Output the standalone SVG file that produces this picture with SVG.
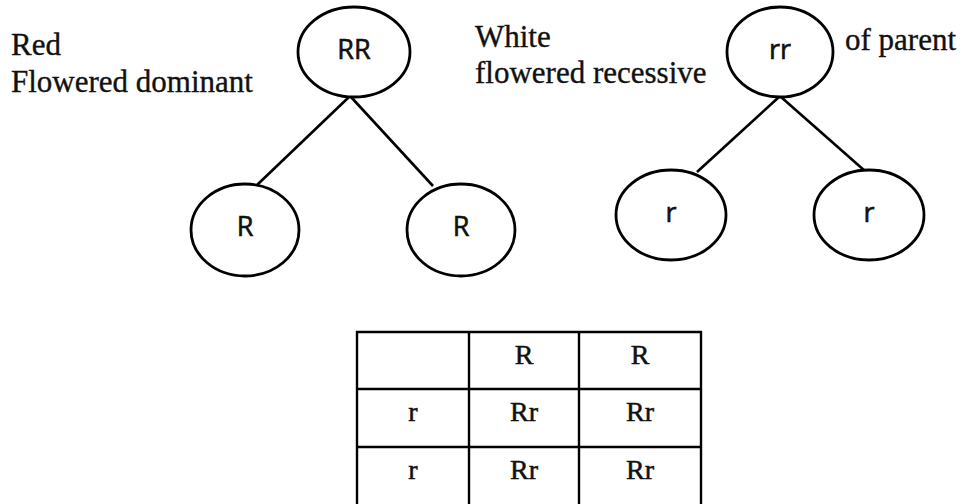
<svg xmlns="http://www.w3.org/2000/svg" width="964" height="504" viewBox="0 0 964 504">
<style>
.node ellipse{fill:#fff;stroke:#000;stroke-width:2.8}
.node text{font-family:"Open Sans","DejaVu Sans",sans-serif;font-size:27px;fill:#111;stroke:#111;stroke-width:0.6;text-anchor:middle}
.lbl{font-family:"Liberation Serif","Times New Roman",serif;font-size:31px;fill:#111;stroke:#111;stroke-width:0.35}
.conn line{stroke:#000;stroke-width:2.6}
.grid line{stroke:#000;stroke-width:2.4}
.cell{font-family:"Liberation Serif","Times New Roman",serif;font-size:28px;fill:#111;stroke:#111;stroke-width:0.5;text-anchor:middle}
</style>
<rect width="964" height="504" fill="#fff"/>
<text class="lbl" x="11" y="55">Red</text>
<text class="lbl" x="11" y="92">Flowered dominant</text>
<text class="lbl" x="475" y="47">White</text>
<text class="lbl" x="475" y="83">flowered recessive</text>
<text class="lbl" x="845" y="50">of parent</text>
<g id="connectors" class="conn">
<line x1="349" y1="97" x2="257" y2="185"/>
<line x1="351" y1="97" x2="433" y2="186"/>
<line x1="779" y1="97" x2="697" y2="172"/>
<line x1="781" y1="97" x2="865" y2="171"/>
</g>
<g id="RR" class="node"><ellipse cx="354" cy="52" rx="56" ry="45"/><text x="354" y="59">RR</text></g>
<g id="R1" class="node"><ellipse cx="245" cy="230" rx="54" ry="46"/><text x="245" y="236">R</text></g>
<g id="R2" class="node"><ellipse cx="461" cy="230" rx="54" ry="46"/><text x="461" y="236">R</text></g>
<g id="rr" class="node"><ellipse cx="780" cy="52" rx="53" ry="45"/><text x="780" y="59">rr</text></g>
<g id="r1" class="node"><ellipse cx="671" cy="215" rx="55" ry="45"/><text x="671" y="222">r</text></g>
<g id="r2" class="node"><ellipse cx="869" cy="215" rx="55" ry="45"/><text x="869" y="222">r</text></g>
<g id="punnett">
<g class="grid">
<line x1="356" y1="332" x2="702" y2="332"/>
<line x1="356" y1="389" x2="702" y2="389"/>
<line x1="356" y1="447" x2="702" y2="447"/>
<line x1="357" y1="331" x2="357" y2="504"/>
<line x1="469" y1="331" x2="469" y2="504"/>
<line x1="579" y1="331" x2="579" y2="504"/>
<line x1="701" y1="331" x2="701" y2="504"/>
</g>
<text class="cell" x="524" y="364">R</text>
<text class="cell" x="640" y="364">R</text>
<text class="cell" x="413" y="421">r</text>
<text class="cell" x="524" y="421">Rr</text>
<text class="cell" x="640" y="421">Rr</text>
<text class="cell" x="413" y="479">r</text>
<text class="cell" x="524" y="479">Rr</text>
<text class="cell" x="640" y="479">Rr</text>
</g>
</svg>
